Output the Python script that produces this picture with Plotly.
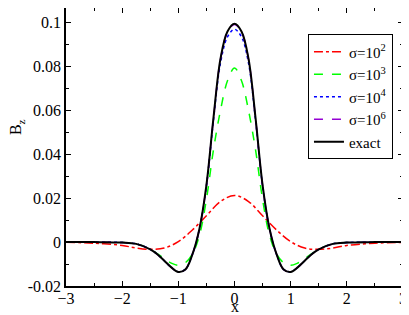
import plotly.graph_objects as go

# valores
x_exact = [-3, -2.5, -2, -1.75, -1.5, -1.375, -1.25, -1.125, -1, -0.875, -0.75, -0.625, -0.5, -0.375, -0.25, -0.125, 0,
           0.125, 0.25, 0.375, 0.5, 0.625, 0.75, 0.875, 1, 1.125, 1.25, 1.375, 1.5, 1.75, 2, 2.5, 3]
bz_exact = [0, 0, -0.0002, -0.0008, -0.0033, -0.0055, -0.0085, -0.0115, -0.0136, -0.0125, -0.0056, 0.0060, 0.0260, 0.0565, 0.0835, 0.0960, 0.0995,
            0.0960, 0.0835, 0.0565, 0.0260, 0.0060, -0.0056, -0.0125, -0.0136, -0.0115, -0.0085, -0.0055, -0.0033, -0.0008, -0.0002, 0, 0]
bz_s4 = [0, 0, -0.0002, -0.0008, -0.0033, -0.0055, -0.0085, -0.0115, -0.0135, -0.0124, -0.0056, 0.0058, 0.0255, 0.0555, 0.0815, 0.0935, 0.0970,
         0.0935, 0.0815, 0.0555, 0.0255, 0.0058, -0.0056, -0.0124, -0.0135, -0.0115, -0.0085, -0.0055, -0.0033, -0.0008, -0.0002, 0, 0]
bz_s6 = [0, 0, -0.0002, -0.0008, -0.0033, -0.0055, -0.0085, -0.0115, -0.0136, -0.0125, -0.0056, 0.0060, 0.0258, 0.0562, 0.0832, 0.0957, 0.0992,
         0.0957, 0.0832, 0.0562, 0.0258, 0.0060, -0.0056, -0.0125, -0.0136, -0.0115, -0.0085, -0.0055, -0.0033, -0.0008, -0.0002, 0, 0]
bz_s3 = [0, 0, -0.0002, -0.0008, -0.0032, -0.0052, -0.0076, -0.0096, -0.0106, -0.0094, -0.0055, 0.0030, 0.0195, 0.0420, 0.0600, 0.0735, 0.0794,
         0.0735, 0.0600, 0.0420, 0.0195, 0.0030, -0.0055, -0.0094, -0.0106, -0.0096, -0.0076, -0.0052, -0.0032, -0.0008, -0.0002, 0, 0]

x_s2 = [-3, -2.5, -2, -1.75, -1.5, -1.25, -1, -0.75, -0.5, -0.25, 0, 0.25, 0.5, 0.75, 1, 1.25, 1.5, 1.75, 2, 2.5, 3]
bz_s2 = [-0.0001, -0.0005, -0.0015, -0.0027, -0.0033, -0.0027, 0.0002, 0.0055, 0.0120, 0.0185, 0.0213,
         0.0185, 0.0120, 0.0055, 0.0002, -0.0027, -0.0033, -0.0027, -0.0015, -0.0005, -0.0001]

fuente = 'Liberation Serif'

fig = go.Figure()
fig.add_trace(go.Scatter(x=x_s2, y=bz_s2, mode='lines', name='σ=10<sup>2</sup>', line=dict(color='#ff0000', width=1.5, dash='dashdot', shape='spline')))
fig.add_trace(go.Scatter(x=x_exact, y=bz_s3, mode='lines', name='σ=10<sup>3</sup>', line=dict(color='#00ff00', width=1.5, dash='dash', shape='spline')))
fig.add_trace(go.Scatter(x=x_exact, y=bz_s4, mode='lines', name='σ=10<sup>4</sup>', line=dict(color='#0000ff', width=1.5, dash='dot', shape='spline')))
fig.add_trace(go.Scatter(x=x_exact, y=bz_s6, mode='lines', name='σ=10<sup>6</sup>', line=dict(color='#9400d3', width=1.5, dash='dash', shape='spline')))
fig.add_trace(go.Scatter(x=x_exact, y=bz_exact, mode='lines', name='exact', line=dict(color='black', width=2, shape='spline')))

# la página deja 8 px de margen alrededor del gráfico
ejes = dict(showgrid=False, zeroline=False, showline=True, linecolor='black', linewidth=1.5, mirror='ticks', automargin=False,
            ticks='inside', ticklen=5, tickcolor='black', tickfont=dict(family=fuente, size=16, color='black'))
fig.update_layout(
    width=401, height=307, margin=dict(l=58, r=6, t=0, b=29),
    plot_bgcolor='white', paper_bgcolor='white',
    font=dict(family=fuente, color='black', size=16),
    xaxis=dict(range=[-3, 3], dtick=1, minor=dict(dtick=0.5, ticks='inside', ticklen=3, tickcolor='black'),
               ticklabelstandoff=-3, **ejes),
    yaxis=dict(range=[-0.02, 0.1067], tickvals=[-0.02, 0, 0.02, 0.04, 0.06, 0.08, 0.1],
               ticktext=['-0.02', '0', '0.02', '0.04', '0.06', '0.08', '0.1'],
               minor=dict(dtick=0.01, ticks='inside', ticklen=3, tickcolor='black'), **ejes),
    legend=dict(x=0.718, y=0.905, xanchor='left', yanchor='top', bordercolor='black', borderwidth=1,
                bgcolor='white', font=dict(family=fuente, size=15), tracegroupgap=0, itemwidth=30),
    showlegend=True,
    annotations=[
        dict(text='x', xref='paper', yref='paper', x=0.5, y=-0.075, xanchor='center', yanchor='middle',
             showarrow=False, font=dict(family=fuente, size=16)),
        dict(text='B<sub>z</sub>', xref='paper', yref='paper', x=-0.145, y=0.572, xanchor='center', yanchor='middle',
             textangle=-90, showarrow=False, font=dict(family=fuente, size=16)),
    ],
)
fig.write_html("out.html")
